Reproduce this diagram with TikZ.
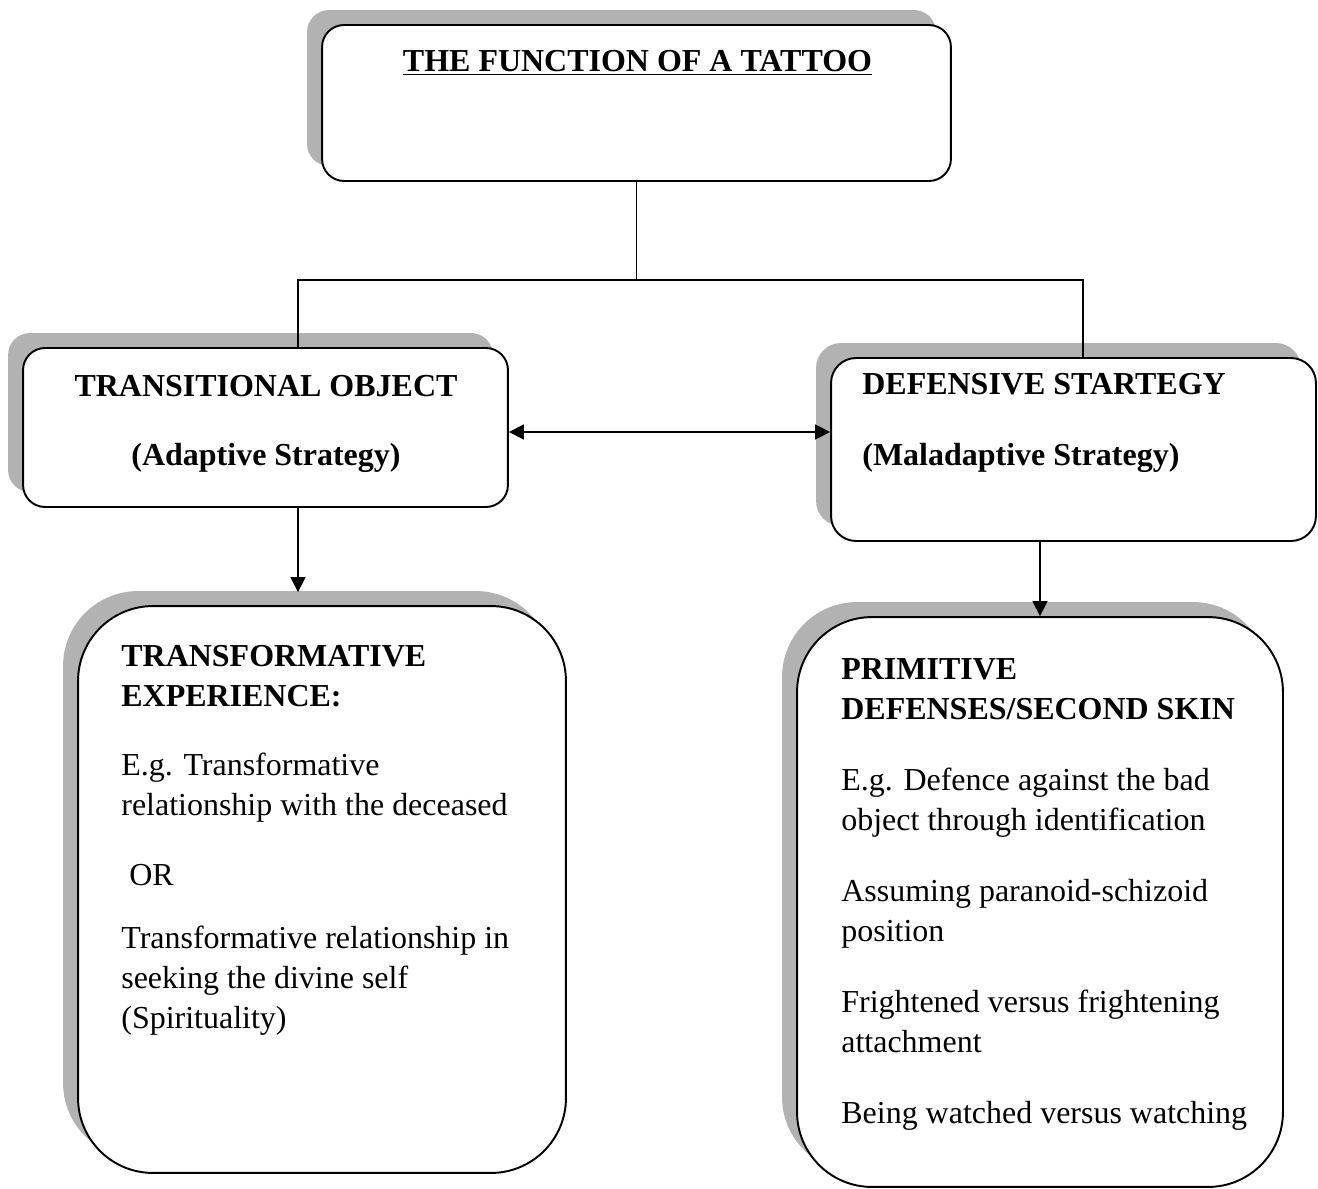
\documentclass[tikz,border=0pt]{standalone}
\usepackage{fontspec}
\setmainfont{Liberation Serif}
\usetikzlibrary{shadows,arrows.meta}

\begin{document}
\begin{tikzpicture}[x=0.02cm, y=-0.02cm,
  box/.style={draw, line width=1.1pt, fill=white, inner sep=0pt,
    general shadow={shadow xshift=-0.3cm, shadow yshift=0.3cm, fill=black!30}},
  txt/.style={inner sep=0pt, font=\fontsize{18.2}{22.76}\selectfont},
  link/.style={line width=0.9pt},
  tip/.style={-{Triangle[length=0.3cm, width=0.3cm]}}
]
\useasboundingbox (0,0) rectangle (1318,1189);

% boxes
\node[box, rounded corners=0.44cm, minimum width=12.58cm, minimum height=3.12cm] (function) at (636.5,103) {};
\node[box, rounded corners=0.44cm, minimum width=9.7cm, minimum height=3.18cm] (adaptive) at (265.5,427.5) {};
\node[box, rounded corners=0.5cm, minimum width=9.7cm, minimum height=3.66cm] (defensive) at (1073.5,449.5) {};
\node[box, rounded corners=1.5cm, minimum width=9.76cm, minimum height=11.34cm] (transform) at (322,889.5) {};
\node[box, rounded corners=1.5cm, minimum width=9.72cm, minimum height=11.4cm] (primitive) at (1040,902) {};

% texts (base = last line)
\node[txt, anchor=base] (functiontxt) at (637.5,72) {\underline{\textbf{THE FUNCTION OF A TATTOO}}};
\node[txt, anchor=base, align=center] (adaptivetxt) at (266,465)
  {\textbf{TRANSITIONAL OBJECT}\\[0.58cm]\textbf{(Adaptive Strategy)}};
\node[txt, anchor=base west, align=left] (defensivetxt) at (862,465)
  {\textbf{DEFENSIVE STARTEGY}\\[0.62cm]\textbf{(Maladaptive Strategy)}};
\node[txt, anchor=base west, align=left] (transformtxt) at (121,1028)
  {\textbf{TRANSFORMATIVE}\\
   \textbf{EXPERIENCE:}\\[0.58cm]
   E.g. Transformative\\
   relationship with the deceased\\[0.6cm]
   \ OR\\[0.46cm]
   Transformative relationship in\\
   seeking the divine self\\
   (Spirituality)};
\node[txt, anchor=base west, align=left] (primitivetxt) at (841,1123)
  {\textbf{PRIMITIVE}\\
   \textbf{DEFENSES/SECOND SKIN}\\[0.62cm]
   E.g. Defence against the bad\\
   object through identification\\[0.62cm]
   Assuming paranoid-schizoid\\
   position\\[0.62cm]
   Frightened versus frightening\\
   attachment\\[0.62cm]
   Being watched versus watching};

% connectors
\draw[link] (function.south) -- ++(0,98) coordinate (split);
\draw[link] (split) -| ([xshift=0.65cm]adaptive.north);
\draw[link] (split) -| ([xshift=0.19cm]defensive.north);
\draw[link, {Triangle[length=0.3cm, width=0.3cm]}-{Triangle[length=0.3cm, width=0.3cm]}]
  ([yshift=-0.09cm]adaptive.east) -- ([yshift=-0.09cm]adaptive.east -| defensive.west);
\draw[link, tip, shorten >=0.26cm] ([xshift=0.65cm]adaptive.south) -- ([xshift=0.65cm]adaptive.south |- transform.north);
\draw[link, tip] (defensive.south -| primitive.north) -- (primitive.north);
\end{tikzpicture}
\end{document}
